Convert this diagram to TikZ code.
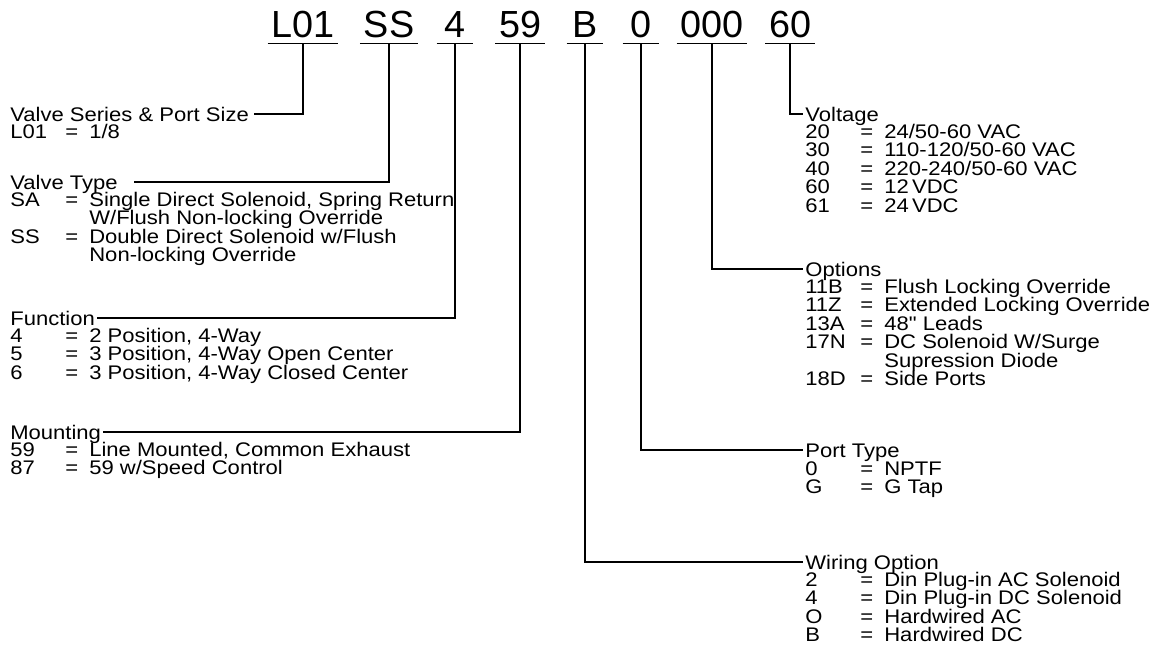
\documentclass[tikz,border=0pt]{standalone}
\usepackage{fontspec}
\setmainfont{Liberation Sans}[Ligatures=TeXOff,FakeStretch=1.12]
\newfontfamily\codefont{Liberation Sans}
\usetikzlibrary{positioning,calc}

% key / value lines of the option lists
\newcommand{\opt}[2]{\makebox[1.1cm][l]{#1}\makebox[0.48cm][l]{=}#2}
\newcommand{\cont}[1]{\hspace*{1.58cm}#1}

\begin{document}
\begin{tikzpicture}[x=0.02cm,y=-0.02cm,
  code/.style={font=\codefont\fontsize{21.5}{24}\selectfont,inner xsep=2pt,inner ysep=0pt,text depth=3.4pt,minimum width=0.72cm,anchor=base},
  sect/.style={font=\fontsize{11.2}{10.5}\selectfont,inner sep=0pt,anchor=base west},
  opts/.style={font={\fontsize{11.2}{10.5}\selectfont\lineskiplimit=-20pt},inner sep=0pt,align=left},
  lead/.style={line width=0.6pt},
  uline/.style={line width=0.8pt}]
\useasboundingbox (0,0) rectangle (1168,646);
% part number
\node[code] (h1) at (303,37) {L01};
\node[code] (h2) at (389,37) {SS};
\node[code] (h3) at (455,37) {4};
\node[code] (h4) at (520,37) {59};
\node[code] (h5) at (585,37) {B};
\node[code] (h6) at (641,37) {0};
\node[code] (h7) at (712,37) {000};
\node[code] (h8) at (790,37) {60};
\draw[uline] (h1.south west)--(h1.south east); \draw[uline] (h2.south west)--(h2.south east);
\draw[uline] (h3.south west)--(h3.south east); \draw[uline] (h4.south west)--(h4.south east);
\draw[uline] (h5.south west)--(h5.south east); \draw[uline] (h6.south west)--(h6.south east);
\draw[uline] (h7.south west)--(h7.south east); \draw[uline] (h8.south west)--(h8.south east);
% left column
\node[sect] (vs) at (10,121) {Valve Series \& Port Size};
\node[opts,below=1.5pt of vs.base west,anchor=north west] (vsl) {\opt{L01}{1/8}};
\node[sect] (vt) at (10,189) {Valve Type};
\node[opts,below=1.5pt of vt.base west,anchor=north west] (vtl) {\opt{SA}{Single Direct Solenoid, Spring Return}\\
  \cont{W/Flush Non-locking Override}\\ \opt{SS}{Double Direct Solenoid w/Flush}\\ \cont{Non-locking Override}};
\node[sect] (fn) at (10,325) {Function};
\node[opts,below=1.5pt of fn.base west,anchor=north west] (fnl) {\opt{4}{2 Position, 4-Way}\\
  \opt{5}{3 Position, 4-Way Open Center}\\ \opt{6}{3 Position, 4-Way Closed Center}};
\node[sect] (mt) at (10,439) {Mounting};
\node[opts,below=1.5pt of mt.base west,anchor=north west] (mtl) {\opt{59}{Line Mounted, Common Exhaust}\\
  \opt{87}{59 w/Speed Control}};
% right column
\node[sect] (vo) at (805,121) {Voltage};
\node[opts,below=1.5pt of vo.base west,anchor=north west] (vol) {\opt{20}{24/50-60 VAC}\\
  \opt{30}{110-120/50-60 VAC}\\ \opt{40}{220-240/50-60 VAC}\\
  \opt{60}{12\,VDC}\\ \opt{61}{24\,VDC}};
\node[sect] (op) at (805,276) {Options};
\node[opts,below=1.5pt of op.base west,anchor=north west] (opl) {\opt{11B}{Flush Locking Override}\\
  \opt{11Z}{Extended Locking Override}\\ \opt{13A}{48" Leads}\\
  \opt{17N}{DC Solenoid W/Surge}\\ \cont{Supression Diode}\\ \opt{18D}{Side Ports}};
\node[sect] (pt) at (805,457) {Port Type};
\node[opts,below=2.5pt of pt.base west,anchor=north west] (ptl) {\opt{0}{NPTF}\\ \opt{G}{G Tap}};
\node[sect] (wo) at (805,569) {Wiring Option};
\node[opts,below=1.5pt of wo.base west,anchor=north west] (wol) {\opt{2}{Din Plug-in AC Solenoid}\\
  \opt{4}{Din Plug-in DC Solenoid}\\ \opt{O}{Hardwired AC}\\ \opt{B}{Hardwired DC}};
% leader lines
\draw[lead] (h1.south) |- ([xshift=3pt,yshift=4pt]vs.base east);
\draw[lead] (h2.south) |- ([xshift=9pt,yshift=4pt]vt.base east);
\draw[lead] (h3.south) |- ([xshift=1pt,yshift=4pt]fn.base east);
\draw[lead] (h4.south) |- ([xshift=1pt,yshift=4pt]mt.base east);
\draw[lead] (h5.south) |- ([xshift=-1pt,yshift=4pt]wo.base west);
\draw[lead] (h6.south) |- ([xshift=-1pt,yshift=4pt]pt.base west);
\draw[lead] (h7.south) |- ([xshift=-1pt,yshift=4pt]op.base west);
\draw[lead] (h8.south) |- ([xshift=-1pt,yshift=4pt]vo.base west);
\end{tikzpicture}
\end{document}
